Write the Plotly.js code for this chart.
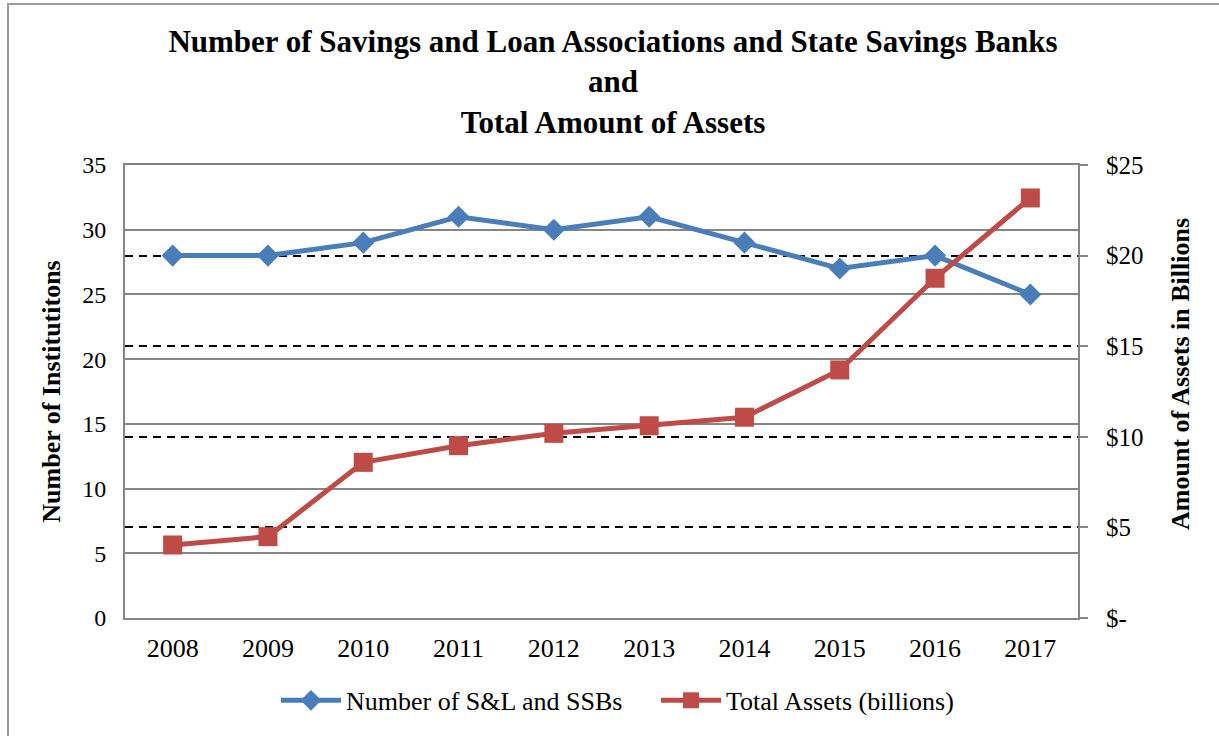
<!DOCTYPE html>
<html>
<head>
<meta charset="utf-8">
<script src="https://cdn.plot.ly/plotly-3.0.1.min.js"></script>
<style>
  html, body { margin: 0; padding: 0; background: #fff; }
  #wrap { position: relative; width: 1219px; height: 736px; overflow: hidden; }
  #chart { width: 1219px; height: 736px; }
  #frame { position: absolute; left: 7px; top: 3px; width: 1240px; height: 760px;
           border: 2px solid #9a9a9a; pointer-events: none; }
</style>
</head>
<body>
<div id="wrap">
  <div id="chart"></div>
  <div id="frame"></div>
</div>
<script>
const years = ['2008','2009','2010','2011','2012','2013','2014','2015','2016','2017'];
const institutions = [28, 28, 29, 31, 30, 31, 29, 27, 28, 25];
const assetsBillions = [4.03, 4.49, 8.59, 9.51, 10.19, 10.61, 11.08, 13.69, 18.75, 23.18];
const leftTicks = [0, 5, 10, 15, 20, 25, 30, 35];
const rightTickVals = [0, 5, 10, 15, 20, 25];
const rightTickText = ['$-', '$5', '$10', '$15', '$20', '$25'];

const serif = 'Liberation Serif, Times New Roman, serif';

const traces = [
  {
    x: years, y: institutions, name: 'Number of S&L and SSBs',
    type: 'scatter', mode: 'lines+markers', yaxis: 'y',
    line: { color: '#4A7EBB', width: 5 },
    marker: { symbol: 'diamond', size: 17, color: '#4A7EBB' }
  },
  {
    x: years, y: assetsBillions, name: 'Total Assets (billions)',
    type: 'scatter', mode: 'lines+markers', yaxis: 'y2',
    line: { color: '#BE4B48', width: 5 },
    marker: { symbol: 'square', size: 19, color: '#BE4B48' }
  }
];

const layout = {
  width: 1219, height: 736,
  paper_bgcolor: '#fff', plot_bgcolor: '#fff',
  margin: { l: 125, r: 141, t: 165, b: 118 },
  font: { family: serif, color: '#000', size: 24 },
  showlegend: true,
  title: {
    text: '<b>Number of Savings and Loan Associations and State Savings Banks<br>and<br>Total Amount of Assets</b>',
    font: { family: serif, size: 31, color: '#000' },
    xref: 'container', x: 613 / 1219, xanchor: 'center',
    yref: 'container', y: 1 - 52 / 736, yanchor: 'middle'
  },
  xaxis: {
    type: 'category', range: [-0.5, 9.5],
    showgrid: false, zeroline: false,
    showline: true, linecolor: '#868686', linewidth: 2, mirror: true,
    ticks: '', ticklabelstandoff: 6,
    tickfont: { family: serif, size: 26, color: '#000' }
  },
  yaxis: {
    range: [0, 35], tickvals: leftTicks,
    showgrid: true, gridcolor: '#868686', gridwidth: 2,
    zeroline: false, showline: true, linecolor: '#868686', linewidth: 2,
    ticks: '', ticklabelstandoff: 12,
    tickfont: { family: serif, size: 24, color: '#000' },
    title: { text: '<b>Number of Institutitons</b>', font: { family: serif, size: 26, color: '#000' }, standoff: 14 }
  },
  yaxis2: {
    overlaying: 'y', side: 'right',
    range: [0, 25], tickvals: rightTickVals, ticktext: rightTickText,
    showgrid: true, gridcolor: '#000', gridwidth: 2, griddash: '8px,6px',
    zeroline: false, showline: true, linecolor: '#868686', linewidth: 2,
    ticks: 'outside', ticklen: 8, tickcolor: '#868686', tickwidth: 2,
    ticklabelstandoff: 13,
    tickfont: { family: serif, size: 25, color: '#000' }
  },
  annotations: [
    {
      text: '<b>Amount of Assets in Billions</b>', textangle: -90,
      xref: 'paper', yref: 'paper',
      x: (1180 - 125) / 953, y: (618 - 374) / 453,
      xanchor: 'center', yanchor: 'middle', showarrow: false,
      font: { family: serif, size: 26, color: '#000' }
    }
  ],
  legend: {
    orientation: 'h', xanchor: 'left', x: (276 - 125) / 953, y: -0.13, yanchor: 'top',
    font: { family: serif, size: 26, color: '#000' },
    itemwidth: 60, tracegroupgap: 0, entrywidth: 305
  }
};

Plotly.newPlot('chart', traces, layout, { displayModeBar: false, staticPlot: true });
</script>
</body>
</html>
